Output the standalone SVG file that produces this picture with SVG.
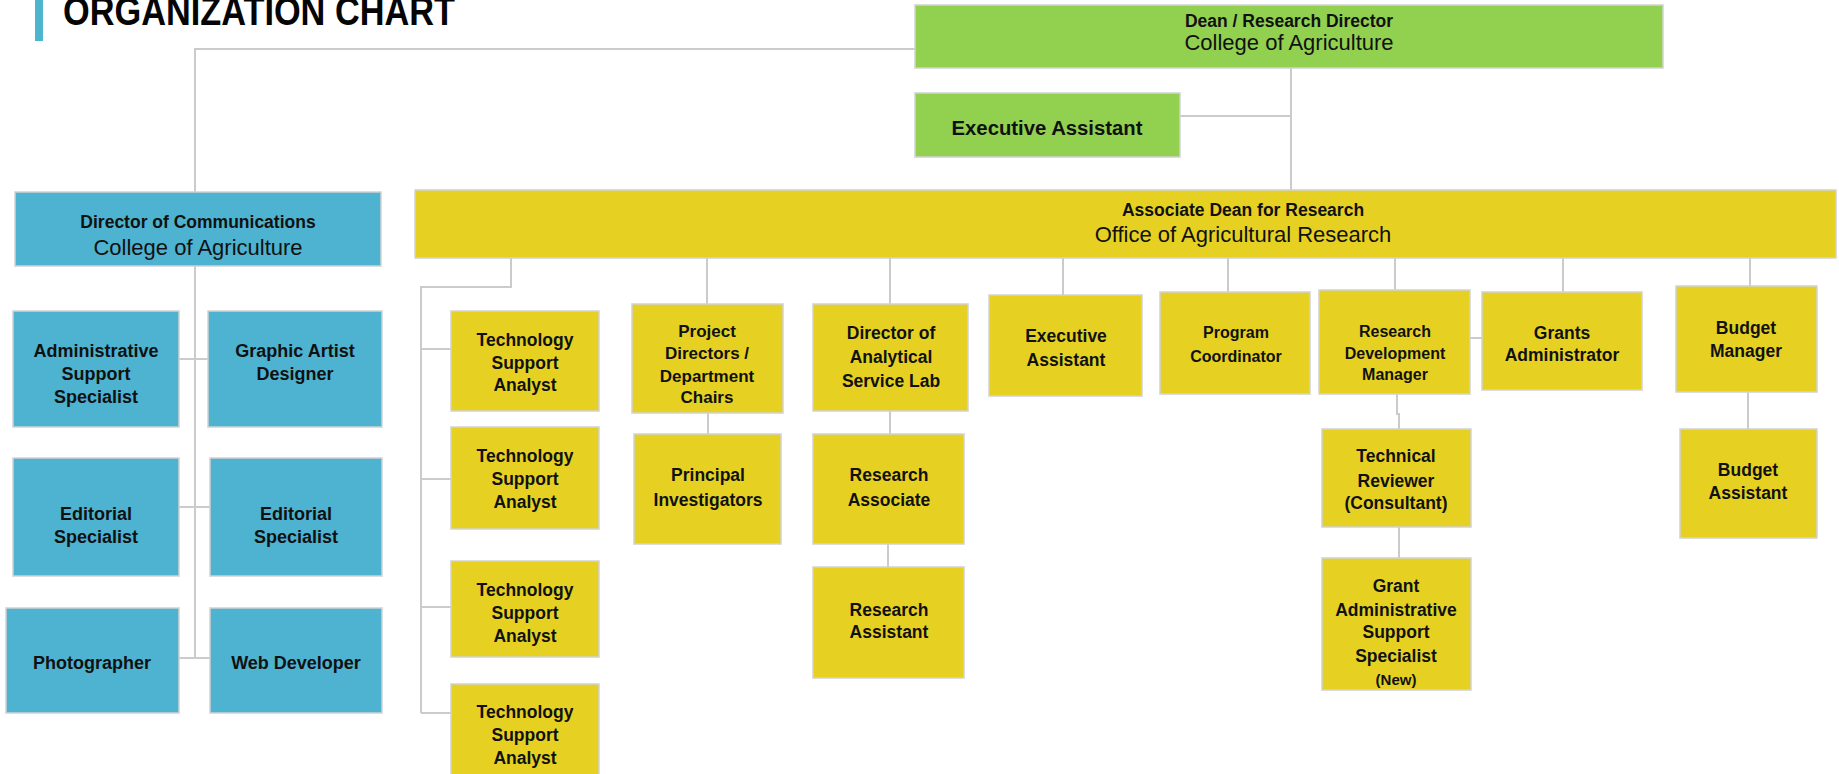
<svg xmlns="http://www.w3.org/2000/svg" width="1839" height="774" viewBox="0 0 1839 774">
<style>
.b{font-family:"Liberation Sans",Arial,sans-serif;font-weight:bold;font-size:17.5px;text-anchor:middle;fill:#111}
.r{font-family:"Liberation Sans",Arial,sans-serif;font-size:22px;text-anchor:middle;fill:#111}
.sm{font-size:16px}
.md{font-size:17px}
.bx{font-size:18px}
.lg{font-size:20.3px}
.ttl{font-family:"Liberation Sans",Arial,sans-serif;font-weight:bold;font-size:41px;fill:#050505}
.conn{stroke:#cbcbcb;stroke-width:2;fill:none}
.g{fill:#92D050;stroke:#d2d2d2;stroke-width:1.5}
.y{fill:#E6D123;stroke:#d2d2d2;stroke-width:1.5}
.bl{fill:#4DB3D0;stroke:#d2d2d2;stroke-width:1.5}
</style>
<rect x="0" y="0" width="1839" height="774" fill="#ffffff"/>
<g id="title">
<rect x="35" y="0" width="8" height="41" fill="#4DB6CE"/>
<text class="ttl" x="63" y="25" textLength="392" lengthAdjust="spacingAndGlyphs">ORGANIZATION CHART</text>
</g>
<g id="connectors">
<path class="conn" d="M915,49 H195 V192"/>
<path class="conn" d="M1291,68 V190"/>
<path class="conn" d="M1180,116 H1291"/>
<path class="conn" d="M195,266 V658"/>
<path class="conn" d="M179,359 H208"/>
<path class="conn" d="M179,507 H210"/>
<path class="conn" d="M179,658 H210"/>
<path class="conn" d="M511,258 V287 H421 V713"/>
<path class="conn" d="M421,349 H451"/>
<path class="conn" d="M421,479 H451"/>
<path class="conn" d="M421,607 H451"/>
<path class="conn" d="M421,713 H451"/>
<path class="conn" d="M707,258 V304"/>
<path class="conn" d="M708,413 V434"/>
<path class="conn" d="M890,258 V304"/>
<path class="conn" d="M890,411 V434"/>
<path class="conn" d="M888,544 V567"/>
<path class="conn" d="M1063,258 V295"/>
<path class="conn" d="M1228,258 V292"/>
<path class="conn" d="M1395,258 V290"/>
<path class="conn" d="M1470,338 H1482"/>
<path class="conn" d="M1563,258 V292"/>
<path class="conn" d="M1750,258 V286"/>
<path class="conn" d="M1748,392 V429"/>
<path class="conn" d="M1397,394 V414 H1399 V429"/>
<path class="conn" d="M1399,527 V558"/>
</g>
<g id="dean">
<rect class="g" x="915" y="5" width="748" height="63"/>
<text class="b" x="1289" y="27">Dean / Research Director</text>
<text class="r" x="1289" y="50">College of Agriculture</text>
</g>
<g id="exec-assistant-dean">
<rect class="g" x="915" y="93" width="265" height="64"/>
<text class="b lg" x="1047" y="135">Executive Assistant</text>
</g>
<g id="director-communications">
<rect class="bl" x="15" y="192" width="366" height="74"/>
<text class="b" x="198" y="228">Director of Communications</text>
<text class="r" x="198" y="255">College of Agriculture</text>
</g>
<g id="associate-dean">
<rect class="y" x="415" y="190" width="1421" height="68"/>
<text class="b" x="1243" y="216">Associate Dean for Research</text>
<text class="r" x="1243" y="242">Office of Agricultural Research</text>
</g>
<g id="admin-support-specialist">
<rect class="bl" x="13" y="311" width="166" height="116"/>
<text class="b bx"><tspan x="96" y="357">Administrative</tspan><tspan x="96" y="380">Support</tspan><tspan x="96" y="403">Specialist</tspan></text>
</g>
<g id="graphic-artist">
<rect class="bl" x="208" y="311" width="174" height="116"/>
<text class="b bx"><tspan x="295" y="357">Graphic Artist</tspan><tspan x="295" y="380">Designer</tspan></text>
</g>
<g id="editorial-specialist-1">
<rect class="bl" x="13" y="458" width="166" height="118"/>
<text class="b bx"><tspan x="96" y="520">Editorial</tspan><tspan x="96" y="543">Specialist</tspan></text>
</g>
<g id="editorial-specialist-2">
<rect class="bl" x="210" y="458" width="172" height="118"/>
<text class="b bx"><tspan x="296" y="520">Editorial</tspan><tspan x="296" y="543">Specialist</tspan></text>
</g>
<g id="photographer">
<rect class="bl" x="6" y="608" width="173" height="105"/>
<text class="b bx" x="92" y="669">Photographer</text>
</g>
<g id="web-developer">
<rect class="bl" x="210" y="608" width="172" height="105"/>
<text class="b bx" x="296" y="669">Web Developer</text>
</g>
<g id="tech-support-1">
<rect class="y" x="451" y="311" width="148" height="100"/>
<text class="b"><tspan x="525" y="346">Technology</tspan><tspan x="525" y="369">Support</tspan><tspan x="525" y="391">Analyst</tspan></text>
</g>
<g id="tech-support-2">
<rect class="y" x="451" y="427" width="148" height="102"/>
<text class="b"><tspan x="525" y="462">Technology</tspan><tspan x="525" y="485">Support</tspan><tspan x="525" y="508">Analyst</tspan></text>
</g>
<g id="tech-support-3">
<rect class="y" x="451" y="561" width="148" height="96"/>
<text class="b"><tspan x="525" y="596">Technology</tspan><tspan x="525" y="619">Support</tspan><tspan x="525" y="642">Analyst</tspan></text>
</g>
<g id="tech-support-4">
<rect class="y" x="451" y="684" width="148" height="96"/>
<text class="b"><tspan x="525" y="718">Technology</tspan><tspan x="525" y="741">Support</tspan><tspan x="525" y="764">Analyst</tspan></text>
</g>
<g id="project-directors">
<rect class="y" x="632" y="304" width="151" height="109"/>
<text class="b md"><tspan x="707" y="337">Project</tspan><tspan x="707" y="359">Directors /</tspan><tspan x="707" y="382">Department</tspan><tspan x="707" y="403">Chairs</tspan></text>
</g>
<g id="principal-investigators">
<rect class="y" x="634" y="434" width="147" height="110"/>
<text class="b"><tspan x="708" y="481">Principal</tspan><tspan x="708" y="506">Investigators</tspan></text>
</g>
<g id="director-analytical">
<rect class="y" x="813" y="304" width="155" height="107"/>
<text class="b"><tspan x="891" y="339">Director of</tspan><tspan x="891" y="363">Analytical</tspan><tspan x="891" y="387">Service Lab</tspan></text>
</g>
<g id="research-associate">
<rect class="y" x="813" y="434" width="151" height="110"/>
<text class="b"><tspan x="889" y="481">Research</tspan><tspan x="889" y="506">Associate</tspan></text>
</g>
<g id="research-assistant">
<rect class="y" x="813" y="567" width="151" height="111"/>
<text class="b"><tspan x="889" y="616">Research</tspan><tspan x="889" y="638">Assistant</tspan></text>
</g>
<g id="executive-assistant">
<rect class="y" x="989" y="295" width="153" height="101"/>
<text class="b"><tspan x="1066" y="342">Executive</tspan><tspan x="1066" y="366">Assistant</tspan></text>
</g>
<g id="program-coordinator">
<rect class="y" x="1160" y="292" width="150" height="102"/>
<text class="b sm"><tspan x="1236" y="338">Program</tspan><tspan x="1236" y="362">Coordinator</tspan></text>
</g>
<g id="research-development-manager">
<rect class="y" x="1319" y="290" width="151" height="104"/>
<text class="b sm"><tspan x="1395" y="337">Research</tspan><tspan x="1395" y="359">Development</tspan><tspan x="1395" y="380">Manager</tspan></text>
</g>
<g id="grants-administrator">
<rect class="y" x="1482" y="292" width="160" height="98"/>
<text class="b"><tspan x="1562" y="339">Grants</tspan><tspan x="1562" y="361">Administrator</tspan></text>
</g>
<g id="budget-manager">
<rect class="y" x="1676" y="286" width="141" height="106"/>
<text class="b"><tspan x="1746" y="334">Budget</tspan><tspan x="1746" y="357">Manager</tspan></text>
</g>
<g id="budget-assistant">
<rect class="y" x="1680" y="429" width="137" height="109"/>
<text class="b"><tspan x="1748" y="476">Budget</tspan><tspan x="1748" y="499">Assistant</tspan></text>
</g>
<g id="technical-reviewer">
<rect class="y" x="1322" y="429" width="149" height="98"/>
<text class="b"><tspan x="1396" y="462">Technical</tspan><tspan x="1396" y="487">Reviewer</tspan><tspan x="1396" y="509">(Consultant)</tspan></text>
</g>
<g id="grant-admin-support">
<rect class="y" x="1322" y="558" width="149" height="132"/>
<text class="b"><tspan x="1396" y="592">Grant</tspan><tspan x="1396" y="616">Administrative</tspan><tspan x="1396" y="638">Support</tspan><tspan x="1396" y="662">Specialist</tspan><tspan x="1396" y="685" style="font-size:15px">(New)</tspan></text>
</g>
</svg>
